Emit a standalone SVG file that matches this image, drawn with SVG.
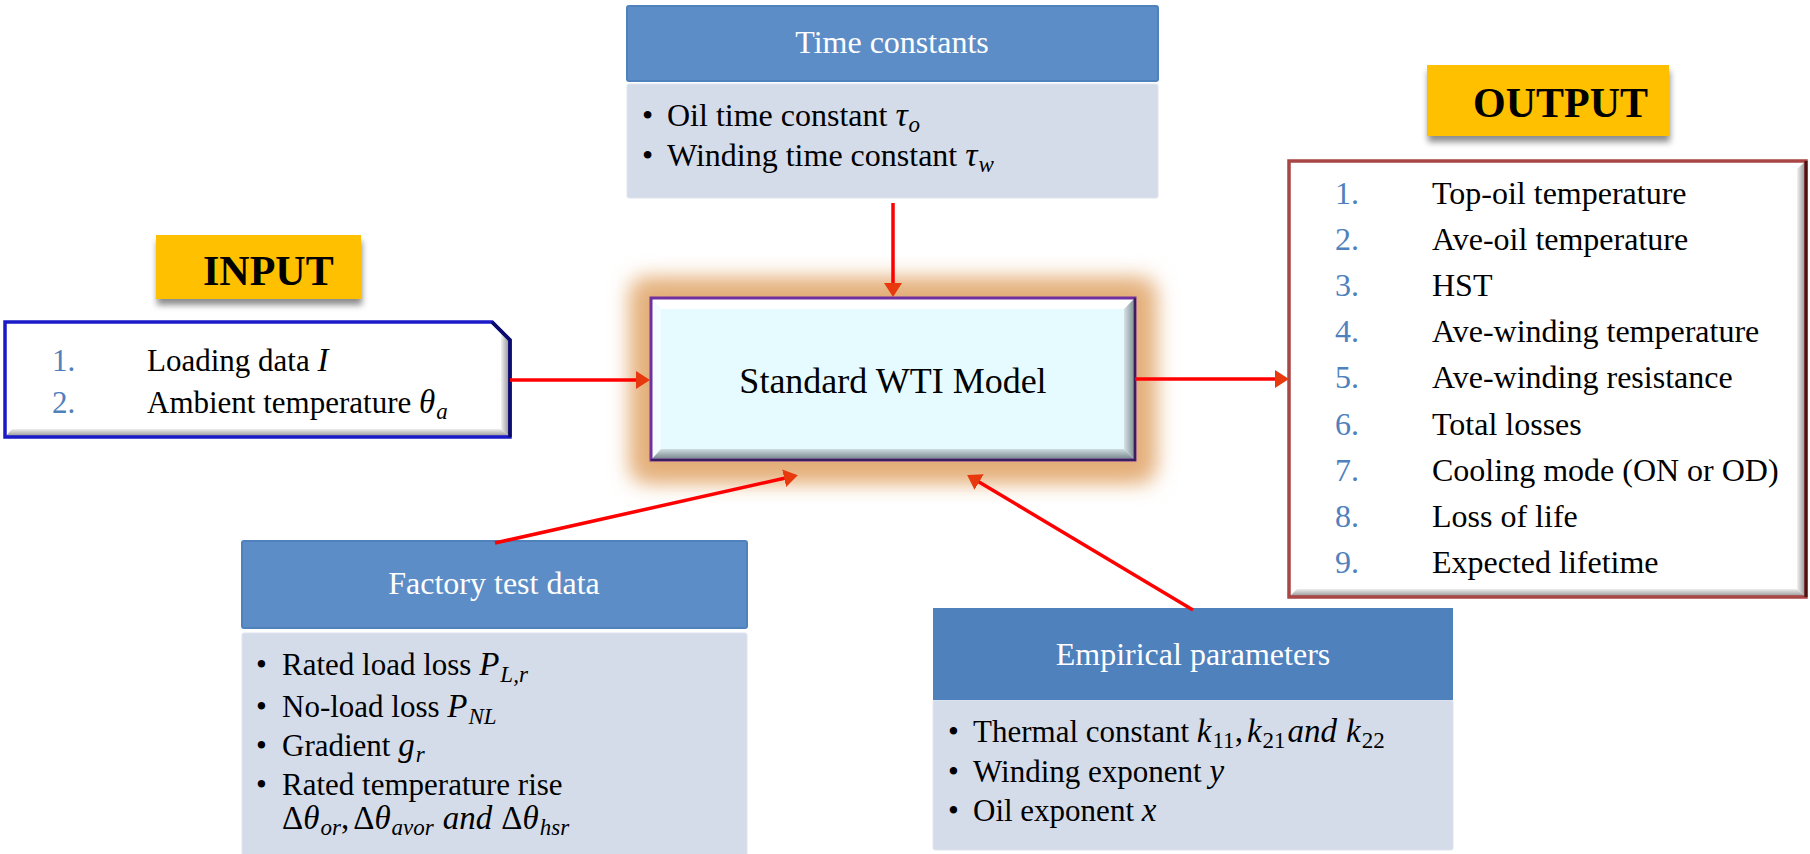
<svg xmlns="http://www.w3.org/2000/svg" width="1810" height="854" viewBox="0 0 1810 854">
  <defs>
    <style>
      .t { font-family: "Liberation Serif", "Times New Roman", serif; fill: #000; }
      .m { font-family: "Liberation Serif", "Times New Roman", serif; font-style: italic; fill: #000; }
      .hd { font-family: "Liberation Serif", "Times New Roman", serif; font-size: 32px; fill: #fff; text-anchor: middle; }
      .num { font-family: "Liberation Serif", "Times New Roman", serif; fill: #4f81bd; }
      .lbl { font-family: "Liberation Serif", "Times New Roman", serif; font-weight: bold; font-size: 42px; fill: #000; }
      .hdr { fill: #5d8dc6; stroke: #4f81bd; stroke-width: 2; }
      .body { fill: #d4dcea; stroke: #dfe4ef; stroke-width: 1; }
      .tag { fill: #ffc000; }
      .conn { stroke: #ff0000; stroke-width: 3.5; fill: none; marker-end: url(#arrow); }
    </style>
    <marker id="arrow" markerUnits="userSpaceOnUse" markerWidth="16" markerHeight="20" refX="6" refY="9" orient="auto">
      <path d="M0,0 L14,9 L0,18 Z" fill="#e8380d"/>
    </marker>
    <filter id="glow" x="-20%" y="-50%" width="140%" height="200%">
      <feGaussianBlur stdDeviation="10"/>
    </filter>
    <filter id="shadow" x="-10%" y="-20%" width="120%" height="160%">
      <feGaussianBlur in="SourceAlpha" stdDeviation="3"/>
      <feOffset dx="1" dy="6" result="off"/>
      <feFlood flood-color="#000" flood-opacity="0.45"/>
      <feComposite in2="off" operator="in"/>
      <feMerge><feMergeNode/><feMergeNode in="SourceGraphic"/></feMerge>
    </filter>
    <linearGradient id="bevR" x1="0" y1="0" x2="1" y2="0">
      <stop offset="0" stop-color="#d5e2e6"/>
      <stop offset="1" stop-color="#7b8a90"/>
    </linearGradient>
    <linearGradient id="bevB" x1="0" y1="0" x2="0" y2="1">
      <stop offset="0" stop-color="#cfdde1"/>
      <stop offset="1" stop-color="#6e7d83"/>
    </linearGradient>
    <linearGradient id="bevRw" x1="0" y1="0" x2="1" y2="0">
      <stop offset="0" stop-color="#f2f2f2"/>
      <stop offset="1" stop-color="#8a8a8a"/>
    </linearGradient>
    <linearGradient id="bevBw" x1="0" y1="0" x2="0" y2="1">
      <stop offset="0" stop-color="#eeeeee"/>
      <stop offset="1" stop-color="#8c8c8c"/>
    </linearGradient>
  </defs>

  <rect width="1810" height="854" fill="#ffffff"/>

  <!-- Time constants -->
  <g id="time-constants">
    <rect class="hdr" x="627" y="6" width="531" height="75" rx="2"/>
    <rect class="body" x="627" y="84" width="531" height="114" rx="2"/>
    <text class="hd" x="892" y="53">Time constants</text>
    <g class="t" font-size="32">
      <text x="642" y="126">•</text>
      <text x="667" y="126">Oil time constant <tspan class="m" font-size="34">τ</tspan><tspan class="m" font-size="23" dx="1" dy="6">o</tspan></text>
      <text x="642" y="166">•</text>
      <text x="667" y="166">Winding time constant <tspan class="m" font-size="34">τ</tspan><tspan class="m" font-size="23" dx="1" dy="6">w</tspan></text>
    </g>
  </g>

  <!-- Central model block with soft glow -->
  <g id="wti-model">
    <rect x="628" y="276" width="530" height="208" rx="18" fill="#ebc197" filter="url(#glow)"/>
    <rect x="640" y="287" width="506" height="188" rx="8" fill="#e2ac74" filter="url(#glow)"/>
    <rect x="651" y="298" width="484" height="162" fill="#e6fbff"/>
    <polygon points="651,298 1135,298 1125,309 661,309" fill="#ffffff"/>
    <polygon points="651,298 661,309 661,449 651,460" fill="#f3fdff"/>
    <polygon points="1135,298 1135,460 1124,449 1124,309" fill="url(#bevR)"/>
    <polygon points="651,460 1135,460 1124,449 661,449" fill="url(#bevB)"/>
    <rect x="651" y="298" width="484" height="162" fill="none" stroke="#7030a0" stroke-width="3"/>
    <path d="M1135,298 L1135,460 L651,460" fill="none" stroke="#3b1f5c" stroke-width="2"/>
    <text class="t" font-size="36" x="893" y="393" text-anchor="middle">Standard WTI Model</text>
  </g>

  <!-- INPUT tag -->
  <g id="input-tag">
    <rect class="tag" x="156" y="235" width="205" height="64" filter="url(#shadow)"/>
    <text class="lbl" x="203" y="285">INPUT</text>
  </g>

  <!-- Input list -->
  <g id="input">
    <path d="M5,322 L492,322 L510,340 L510,437 L5,437 Z" fill="#ffffff"/>
    <path d="M501,331 L501,429 L510,437 L510,340 Z" fill="url(#bevRw)"/>
    <path d="M5,437 L510,437 L501,429 L12,429 Z" fill="url(#bevBw)"/>
    <path d="M5,322 L492,322 L510,340 L510,437 L5,437 Z" fill="none" stroke="#1a1ac8" stroke-width="3.5"/>
    <path d="M492,322 L510,340 L510,437" fill="none" stroke="#0c0c6a" stroke-width="3.5"/>
    <g font-size="31">
      <text class="num" x="52" y="371">1.</text>
      <text class="t" x="147" y="371">Loading data <tspan class="m" font-size="33">I</tspan></text>
      <text class="num" x="52" y="413">2.</text>
      <text class="t" x="147" y="413">Ambient temperature <tspan class="m" font-size="33">θ</tspan><tspan class="m" font-size="23" dx="1" dy="6">a</tspan></text>
    </g>
  </g>

  <!-- OUTPUT tag -->
  <g id="output-tag">
    <rect class="tag" x="1427" y="65" width="242" height="71" filter="url(#shadow)"/>
    <text class="lbl" x="1473" y="117">OUTPUT</text>
  </g>

  <!-- Output list -->
  <g id="output">
    <rect x="1289" y="161" width="517" height="436" fill="#ffffff"/>
    <polygon points="1806,161 1806,597 1797,589 1797,169" fill="url(#bevRw)"/>
    <polygon points="1289,597 1806,597 1797,589 1297,589" fill="url(#bevBw)"/>
    <rect x="1289" y="161" width="517" height="436" fill="none" stroke="#a94545" stroke-width="3.5"/>
    <path d="M1806,161 L1806,597" fill="none" stroke="#4a1414" stroke-width="3"/>
    <g font-size="32">
      <text class="num" x="1335" y="204">1.</text>
      <text class="t" x="1432" y="204">Top-oil temperature</text>
      <text class="num" x="1335" y="250">2.</text>
      <text class="t" x="1432" y="250">Ave-oil temperature</text>
      <text class="num" x="1335" y="296">3.</text>
      <text class="t" x="1432" y="296">HST</text>
      <text class="num" x="1335" y="342">4.</text>
      <text class="t" x="1432" y="342">Ave-winding temperature</text>
      <text class="num" x="1335" y="388">5.</text>
      <text class="t" x="1432" y="388">Ave-winding resistance</text>
      <text class="num" x="1335" y="435">6.</text>
      <text class="t" x="1432" y="435">Total losses</text>
      <text class="num" x="1335" y="481">7.</text>
      <text class="t" x="1432" y="481">Cooling mode (ON or OD)</text>
      <text class="num" x="1335" y="527">8.</text>
      <text class="t" x="1432" y="527">Loss of life</text>
      <text class="num" x="1335" y="573">9.</text>
      <text class="t" x="1432" y="573">Expected lifetime</text>
    </g>
  </g>

  <!-- Factory test data -->
  <g id="factory-test-data">
    <rect class="hdr" x="242" y="541" width="505" height="87" rx="2"/>
    <rect class="body" x="242" y="633" width="505" height="230" rx="2"/>
    <text class="hd" x="494" y="594">Factory test data</text>
    <g class="t" font-size="31">
      <text x="256" y="675">•</text>
      <text x="282" y="675">Rated load loss <tspan class="m" font-size="33">P</tspan><tspan class="m" font-size="23" dx="1" dy="7">L,r</tspan></text>
      <text x="256" y="717">•</text>
      <text x="282" y="717">No-load loss <tspan class="m" font-size="33">P</tspan><tspan class="m" font-size="23" dx="1" dy="7">NL</tspan></text>
      <text x="256" y="756">•</text>
      <text x="282" y="756">Gradient <tspan class="m" font-size="33">g</tspan><tspan class="m" font-size="23" dx="1" dy="6">r</tspan></text>
      <text x="256" y="795">•</text>
      <text x="282" y="795">Rated temperature rise</text>
      <text x="282" y="829" font-size="33">Δ<tspan class="m">θ</tspan><tspan class="m" font-size="23" dx="1" dy="6">or</tspan><tspan dy="-6">,</tspan><tspan dx="4">Δ</tspan><tspan class="m">θ</tspan><tspan class="m" font-size="23" dx="1" dy="6">avor</tspan><tspan class="m" dx="9" dy="-6">and</tspan><tspan dx="9">Δ</tspan><tspan class="m">θ</tspan><tspan class="m" font-size="23" dx="1" dy="6">hsr</tspan></text>
    </g>
  </g>

  <!-- Empirical parameters -->
  <g id="empirical-parameters">
    <rect class="body" x="933" y="700" width="520" height="150" rx="2"/>
    <rect x="933" y="608" width="520" height="92" fill="#4f81bd"/>
    <text class="hd" x="1193" y="665">Empirical parameters</text>
    <g class="t" font-size="31">
      <text x="948" y="742">•</text>
      <text x="973" y="742">Thermal constant <tspan class="m" font-size="33">k</tspan><tspan font-size="23" dx="1" dy="6">11</tspan><tspan font-size="33" dy="-6">,</tspan><tspan class="m" font-size="33" dx="4">k</tspan><tspan font-size="23" dx="1" dy="6">21</tspan><tspan class="m" font-size="33" dx="2" dy="-6">and</tspan><tspan class="m" font-size="33" dx="9">k</tspan><tspan font-size="23" dx="1" dy="6">22</tspan></text>
      <text x="948" y="782">•</text>
      <text x="973" y="782">Winding exponent <tspan class="m" font-size="33">y</tspan></text>
      <text x="948" y="821">•</text>
      <text x="973" y="821">Oil exponent <tspan class="m" font-size="33">x</tspan></text>
    </g>
  </g>

  <!-- Connectors -->
  <g id="connectors">
    <line class="conn" x1="893" y1="203" x2="893" y2="289"/>
    <line class="conn" x1="510" y1="380" x2="642" y2="380"/>
    <line class="conn" x1="1135" y1="379" x2="1281" y2="379"/>
    <line class="conn" x1="495" y1="543" x2="790" y2="477"/>
    <line class="conn" x1="1193" y1="610" x2="974" y2="479"/>
  </g>
</svg>
